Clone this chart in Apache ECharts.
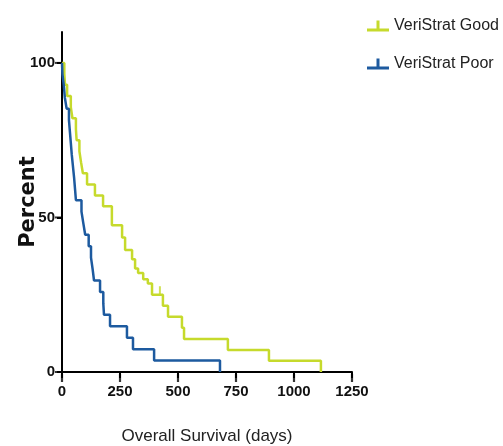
<!DOCTYPE html>
<html>
<head>
<meta charset="utf-8">
<script src="https://cdn.jsdelivr.net/npm/echarts@6/dist/echarts.min.js"></script>
<style>
html,body{margin:0;padding:0;background:#fff;}
#c{width:503px;height:446px;}
</style>
</head>
<body>
<div id="c"></div>
<script>
// Kaplan-Meier step points (day of event, survival % after event)
const goodDays = [0, 10, 13, 22, 38, 45, 60, 63, 75, 82, 90, 108, 142, 177, 215, 259, 272, 302, 315, 328, 350, 370, 388, 435, 457, 517, 526, 715, 892, 1116];
const goodPct  = [100, 96.4, 92.9, 89.3, 85.7, 82.1, 78.6, 75, 71.4, 67.9, 64.3, 60.7, 57.1, 53.6, 47.5, 43.5, 39.5, 36.5, 33.5, 32, 30, 28.6, 25, 21.4, 17.9, 14.3, 10.7, 7.1, 3.6, 0];
const poorDays = [0, 2, 8, 12, 20, 30, 34, 38, 42, 47, 52, 56, 60, 84, 92, 100, 115, 125, 132, 138, 164, 178, 181, 207, 280, 306, 397, 681];
const poorPct  = [100, 96.3, 92.6, 88.9, 85.2, 81.5, 77.8, 74.1, 70.4, 66.7, 63, 59.3, 55.6, 51.9, 48.1, 44.4, 40.7, 37, 33.3, 29.6, 25.9, 22.2, 18.5, 14.8, 11.1, 7.4, 3.7, 0];
// censored observations
const goodCensorDays = [422];
const goodCensorPct  = [25];
const seriesNames = ['VeriStrat Good', 'VeriStrat Poor'];
const xTicks = [0, 250, 500, 750, 1000, 1250];
const yTicks = [0, 50, 100];

const GREEN = '#c6da2c';
const BLUE = '#1d5a9f';
const FONT = 'Liberation Sans, Arial, sans-serif';
const zip = (a, b) => a.map((v, i) => [v, b[i]]);
const icon = 'path://M0,9h22v3h-22z M9.5,1h3v8h-3z';

const chart = echarts.init(document.getElementById('c'), null, {renderer: 'canvas'});
chart.setOption({
  animation: false,
  backgroundColor: '#ffffff',
  grid: {left: 62, right: 151, top: 32, bottom: 74, containLabel: false, outerBoundsMode: 'none'},
  legend: {
    orient: 'vertical', left: 362, top: 11, itemWidth: 22, itemHeight: 12, itemGap: 18,
    textStyle: {fontFamily: FONT, fontSize: 16, color: '#222', lineHeight: 20},
    data: [
      {name: seriesNames[0], icon: icon, itemStyle: {color: GREEN}},
      {name: seriesNames[1], icon: icon, itemStyle: {color: BLUE}}
    ]
  },
  xAxis: {
    type: 'value', min: 0, max: 1250, interval: 250,
    name: 'Overall Survival (days)', nameLocation: 'middle', nameGap: 56,
    nameTextStyle: {fontFamily: FONT, fontSize: 17, color: '#222'},
    axisLine: {show: true, lineStyle: {color: '#000', width: 2}},
    axisTick: {show: true, inside: false, length: 6, lineStyle: {color: '#000', width: 2}},
    axisLabel: {margin: 12, fontFamily: FONT, fontWeight: 'bold', fontSize: 15, color: '#111',
      formatter: v => String(v)},
    splitLine: {show: false}
  },
  yAxis: {
    type: 'value', min: 0, max: 110,
    name: 'Percent', nameLocation: 'middle', nameGap: 23, nameMoveOverlap: false,
    nameTextStyle: {fontFamily: 'DejaVu Sans, sans-serif', fontWeight: 'bold', fontSize: 21, color: '#111'},
    axisLine: {show: true, lineStyle: {color: '#000', width: 2}},
    axisTick: {show: true, inside: false, length: 5, lineStyle: {color: '#000', width: 2}, customValues: yTicks},
    axisLabel: {margin: 7, fontFamily: FONT, fontWeight: 'bold', fontSize: 15, color: '#111',
      customValues: yTicks, formatter: v => String(v)},
    splitLine: {show: false}
  },
  series: [
    {name: seriesNames[0], type: 'line', step: 'end', data: zip(goodDays, goodPct), showSymbol: false,
      lineStyle: {color: GREEN, width: 2.5}, itemStyle: {color: GREEN}, z: 2},
    {name: seriesNames[1], type: 'line', step: 'end', data: zip(poorDays, poorPct), showSymbol: false,
      lineStyle: {color: BLUE, width: 2.5}, itemStyle: {color: BLUE}, z: 3},
    {name: seriesNames[0], type: 'scatter', data: zip(goodCensorDays, goodCensorPct), symbol: 'rect', symbolSize: [2, 9], symbolOffset: [0, -4],
      itemStyle: {color: GREEN}, z: 2},
    // tick marks placed through the axis scales
    {name: 'xticks', type: 'scatter', data: xTicks.map(v => [v, 0]), symbol: 'rect', symbolSize: [2.2, 8], symbolOffset: [0, 6],
      itemStyle: {color: '#000'}, clip: false, silent: true, z: 5, legendHoverLink: false},
    {name: 'yticks', type: 'scatter', data: yTicks.map(v => [0, v]), symbol: 'rect', symbolSize: [6, 2], symbolOffset: [-4, 0],
      itemStyle: {color: '#000'}, clip: false, silent: true, z: 5, legendHoverLink: false}
  ]
});
</script>
</body>
</html>
